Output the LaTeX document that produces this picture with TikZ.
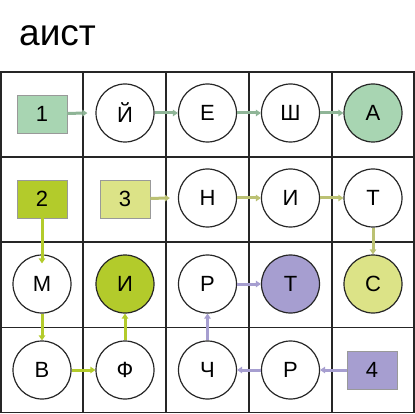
\documentclass[tikz,border=0pt]{standalone}
\usepackage{fontspec}
\setmainfont{Liberation Sans}
\usetikzlibrary{arrows.meta}
\definecolor{cgreen}{HTML}{A8D5B2}
\definecolor{cyg}{HTML}{B3CB2B}
\definecolor{cly}{HTML}{DCE387}
\definecolor{clav}{HTML}{A69ED0}
\tikzset{
  circ/.style={circle,draw=black!85,line width=1.2pt,minimum size=58pt,inner sep=0pt,font=\fontsize{22}{22}\selectfont},
  sq/.style={rectangle,draw=black!40,line width=0.8pt,minimum width=50pt,minimum height=38pt,inner sep=0pt,font=\fontsize{22}{22}\selectfont},
  arr/.style={line width=3pt,-{Triangle[length=5pt,width=6.5pt]}},
  gridline/.style={draw=black!85,line width=1.5pt},
}
\begin{document}
\begin{tikzpicture}[x=1pt,y=-1pt]
\useasboundingbox (0,0) rectangle (415,414);
\node[anchor=base west,font=\fontsize{37}{37}\selectfont,inner sep=0pt] (title) at (19,46) {аист};
% grid
\draw[gridline] (1,72) rectangle (414,412.5);
\foreach \xx in {83,166,249,332} \draw[gridline] (\xx,72) -- (\xx,412.5);
\foreach \yy in {157,242,327.5} \draw[gridline] (1,\yy) -- (414,\yy);
% row 1
\node[sq,fill=cgreen] (s1) at (42,114) {1};
\node[circ] (c12) at (125,113) {Й};
\node[circ] (c13) at (207.5,113) {Е};
\node[circ] (c14) at (290.5,113) {Ш};
\node[circ,fill=cgreen] (c15) at (373,113) {А};
% row 2
\node[sq,fill=cyg] (s2) at (42,199) {2};
\node[sq,fill=cly] (s3) at (125,199) {3};
\node[circ] (c23) at (207.5,198) {Н};
\node[circ] (c24) at (290.5,198) {И};
\node[circ] (c25) at (373,198) {Т};
% row 3
\node[circ] (c31) at (42,284) {М};
\node[circ,fill=cyg] (c32) at (125,284) {И};
\node[circ] (c33) at (207.5,284) {Р};
\node[circ,fill=clav] (c34) at (290.5,284) {Т};
\node[circ,fill=cly] (c35) at (373,284) {С};
% row 4
\node[circ] (c41) at (42,370) {В};
\node[circ] (c42) at (125,370) {Ф};
\node[circ] (c43) at (207.5,370) {Ч};
\node[circ] (c44) at (290.5,370) {Р};
\node[sq,fill=clav] (s4) at (372,370) {4};
% arrows green
\draw[arr,draw=cgreen!85!black] (s1) -- ([xshift=-8pt]c12.west);
\draw[arr,draw=cgreen!85!black] (c12) -- (c13);
\draw[arr,draw=cgreen!85!black] (c13) -- (c14);
\draw[arr,draw=cgreen!85!black] (c14) -- (c15);
% arrows light yellow
\draw[arr,draw=cly!85!black] (s3) -- ([xshift=-8pt]c23.west);
\draw[arr,draw=cly!85!black] (c23) -- (c24);
\draw[arr,draw=cly!85!black] (c24) -- (c25);
\draw[arr,draw=cly!85!black] (c25) -- (c35);
% arrows yellow-green
\draw[arr,draw=cyg] (s2) -- ([yshift=-9pt]c31.north);
\draw[arr,draw=cyg] (c31) -- (c41);
\draw[arr,draw=cyg] (c41) -- (c42);
\draw[arr,draw=cyg] (c42) -- (c32);
% arrows lavender
\draw[arr,draw=clav] (s4) -- (c44);
\draw[arr,draw=clav] (c44) -- (c43);
\draw[arr,draw=clav] (c43) -- (c33);
\draw[arr,draw=clav] (c33) -- (c34);
\end{tikzpicture}
\end{document}
